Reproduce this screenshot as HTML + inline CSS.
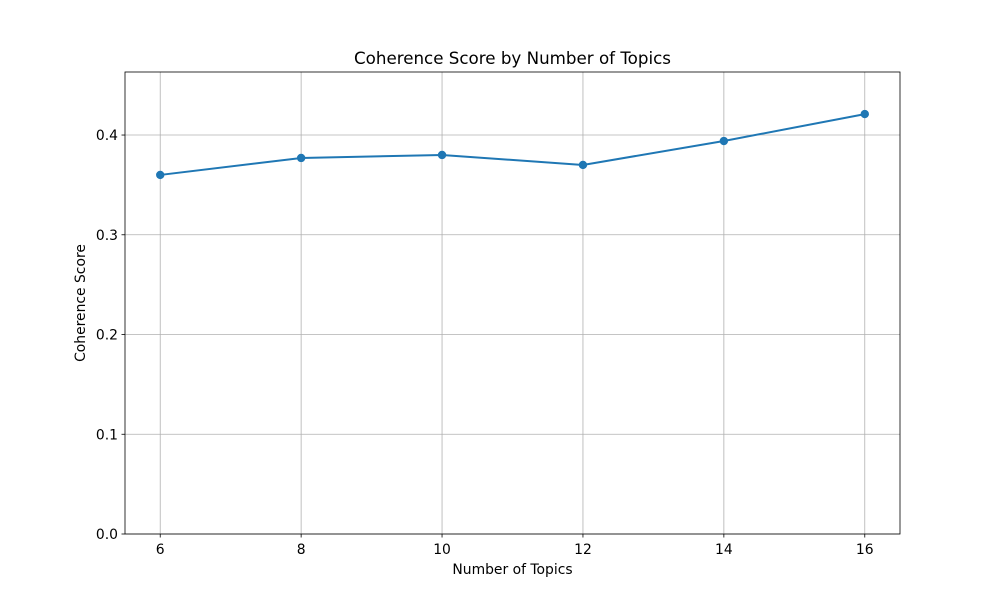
<!DOCTYPE html>
<html><head><meta charset="utf-8"><style>
body{margin:0;background:#fff}
svg text{font-family:"DejaVu Sans","Liberation Sans",sans-serif;fill:#000}
</style></head><body>
<svg id="chart" width="1000" height="600">
<rect width="1000" height="600" fill="#fff"/>
</svg>
<script>
const topics = [6, 8, 10, 12, 14, 16];
const scores = [0.360, 0.377, 0.380, 0.370, 0.394, 0.421];
const xTicks = [6, 8, 10, 12, 14, 16];
const yTicks = [0.0, 0.1, 0.2, 0.3, 0.4];
const yTickLabels = ["0.0", "0.1", "0.2", "0.3", "0.4"];

const L=125,R=900,T=72,B=534;
const xMin=5.5,xMax=16.5,yMin=0,yMax=0.4632;
const xs=v=>L+(v-xMin)/(xMax-xMin)*(R-L);
const ys=v=>B-(v-yMin)/(yMax-yMin)*(B-T);
const svg=document.getElementById('chart');
const NS='http://www.w3.org/2000/svg';
function mk(tag,attrs,parent){const e=document.createElementNS(NS,tag);for(const k in attrs)e.setAttribute(k,attrs[k]);(parent||svg).appendChild(e);return e;}

const grid=mk('g',{});


xTicks.forEach(t=>{const x=xs(t);
  const l=mk('line',{x1:x,x2:x,y1:T,y2:B,stroke:'#b0b0b0','stroke-width':0.8},grid);
  
  
  mk('line',{x1:x,x2:x,y1:B,y2:B+3.5,stroke:'#000','stroke-width':0.8});
  const tx=mk('text',{x:x,y:B+20,'text-anchor':'middle','font-size':13.9});
  tx.textContent=t;
  
  
});
yTicks.forEach((t,i)=>{const y=ys(t);
  const l=mk('line',{x1:L,x2:R,y1:y,y2:y,stroke:'#b0b0b0','stroke-width':0.8},grid);
  
  
  mk('line',{x1:L-3.5,x2:L,y1:y,y2:y,stroke:'#000','stroke-width':0.8});
  const tx=mk('text',{x:L-7,y:y+5,'text-anchor':'end','font-size':13.9});
  tx.textContent=yTickLabels[i];
  
  
});

const pts=topics.map((t,i)=>xs(t)+','+ys(scores[i])).join(' ');
const line=mk('polyline',{points:pts,fill:'none',stroke:'#1f77b4','stroke-width':2});


topics.forEach((t,i)=>{
  const c=mk('circle',{cx:xs(t),cy:ys(scores[i]),r:4.2,fill:'#1f77b4'});
  
  
});

const frame=mk('rect',{x:L,y:T,width:R-L,height:B-T,fill:'none',stroke:'#000','stroke-width':0.8});



const title=mk('text',{x:(L+R)/2,y:64,'text-anchor':'middle','font-size':16.7});
title.textContent='Coherence Score by Number of Topics';


const xl=mk('text',{x:(L+R)/2,y:574,'text-anchor':'middle','font-size':13.9});
xl.textContent='Number of Topics';


const yl=mk('text',{x:85,y:(T+B)/2,'text-anchor':'middle','font-size':13.9,transform:'rotate(-90 85 '+((T+B)/2)+')'});
yl.textContent='Coherence Score';


</script>
</body></html>
